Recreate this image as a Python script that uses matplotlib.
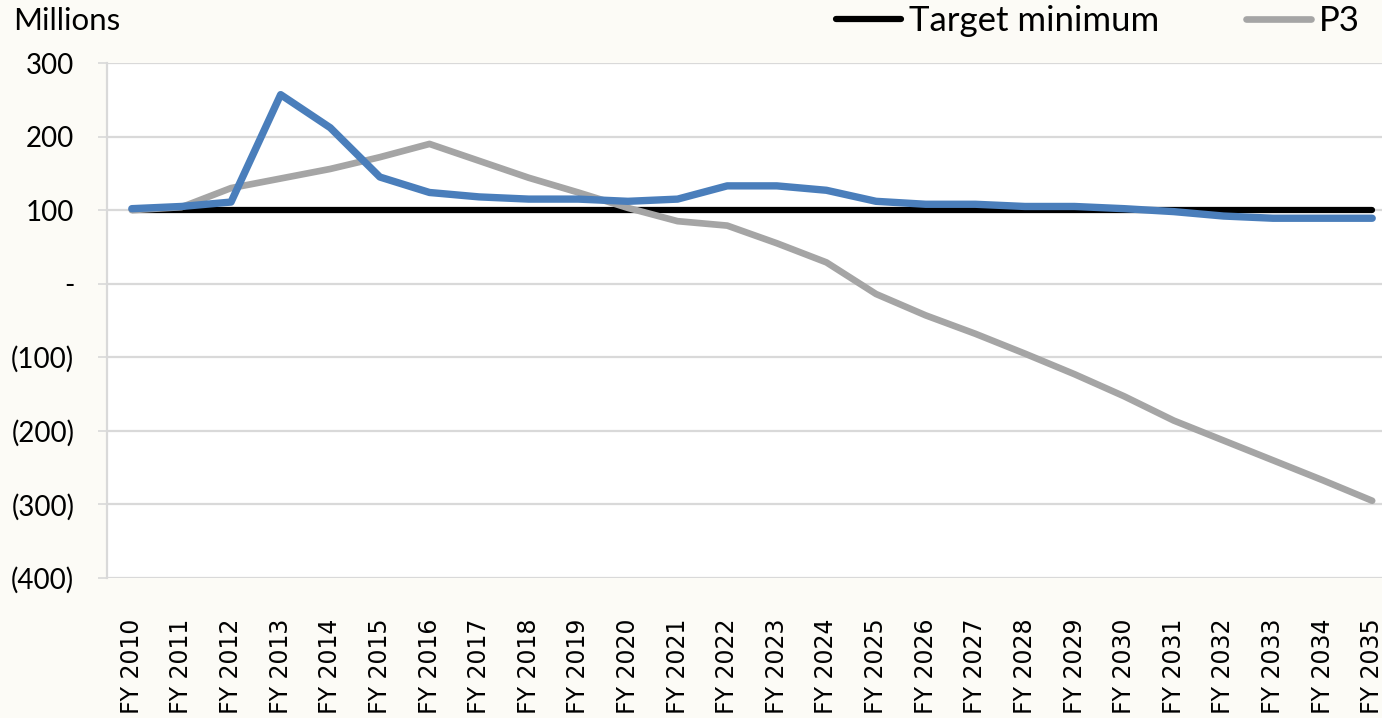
import matplotlib
matplotlib.use("Agg")
import matplotlib.pyplot as plt
from matplotlib.ticker import FixedLocator, FuncFormatter

years = [f"FY {y}" for y in range(2010, 2036)]

target_minimum = [100] * 26

p3 = [100, 104, 130, 143, 156, 172, 190, 167, 144, 124, 103, 85,
      79, 55, 29, -14, -43, -68, -95, -123, -153, -186, -213, -240, -267, -295]

base = [102, 105, 111, 257, 212, 145, 124, 118, 115, 115, 112, 115,
        133, 133, 127, 112, 108, 108, 105, 105, 102, 98, 92, 89, 89, 89]

y_ticks = [300, 200, 100, 0, -100, -200, -300, -400]


def fmt(v, pos=None):
    if v == 0:
        return "-"
    if v < 0:
        return f"({int(-v)})"
    return f"{int(v)}"


W, H = 1382, 718
fig = plt.figure(figsize=(W / 100, H / 100), dpi=100, facecolor="#FCFBF6")

left = 107 / W
right = 1397 / W
bottom = (H - 578) / H
top = (H - 63) / H
ax = fig.add_axes([left, bottom, right - left, top - bottom])
ax.set_facecolor("white")

x = list(range(len(years)))
l_target, = ax.plot(x, target_minimum, color="black", lw=4.5,
                    solid_capstyle="round", label="Target minimum", zorder=3)
l_p3, = ax.plot(x, p3, color="#A5A5A5", lw=4.8,
                solid_capstyle="round", solid_joinstyle="round", label="P3", zorder=4)
l_base, = ax.plot(x, base, color="#4A7EBB", lw=5.3,
                  solid_capstyle="round", solid_joinstyle="round", zorder=5)

ax.set_xlim(-0.5, len(years) - 0.5)
ax.set_ylim(-400, 300)

ax.yaxis.set_major_locator(FixedLocator(y_ticks))
ax.yaxis.set_major_formatter(FuncFormatter(fmt))
ax.grid(axis="y", color="#D9D9D9", lw=1.6, zorder=0)
ax.set_axisbelow(True)

for s in ["top", "right", "bottom"]:
    ax.spines[s].set_visible(False)
ax.spines["left"].set_color("#D9D9D9")
ax.spines["left"].set_linewidth(1.6)

ax.tick_params(axis="y", length=6.5, width=1.2, color="#D9D9D9", pad=17,
               labelsize=20, labelcolor="black")
for t in ax.get_yticklabels():
    t.set_fontfamily("Lato")

ax.set_xticks(x)
ax.set_xticklabels(years, rotation=90, fontsize=17, family="DejaVu Sans",
                   va="top", ha="center")
ax.tick_params(axis="x", length=0, pad=29)

fig.text(13 / W, 1 - 21 / H, "Millions", fontsize=22.5, family="Lato",
         va="center", ha="left")

fig.legend(handles=[l_target, l_p3], loc="center right",
           bbox_to_anchor=(1360 / W, 1 - 21 / H), ncol=2, frameon=False,
           prop={"family": "Lato", "size": 25}, handlelength=1.87,
           handletextpad=0.23, columnspacing=2.5, borderpad=0,
           borderaxespad=0)

fig.savefig("out.png", dpi=100, facecolor=fig.get_facecolor())
